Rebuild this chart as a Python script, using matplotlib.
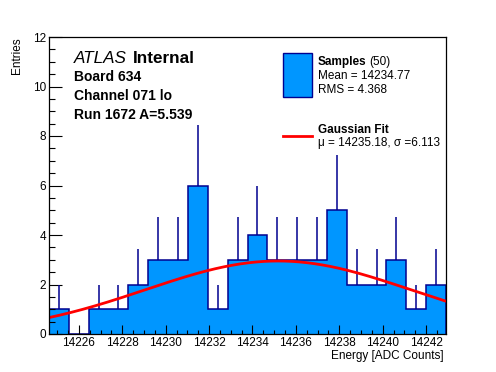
import numpy as np
import matplotlib.pyplot as plt
from matplotlib.ticker import MultipleLocator

plt.rcParams['font.family'] = ['Liberation Sans', 'DejaVu Sans']

# histogram data
x_lo, x_hi = 14224.62, 14242.92
counts = [1, 0, 1, 1, 2, 3, 3, 6, 1, 3, 4, 3, 3, 3, 5, 2, 2, 3, 1, 2]
n_samples = 50
mean, rms = 14234.77, 4.368

# gaussian fit parameters
fit_mu, fit_sigma, fit_amp = 14235.18, 6.113, 2.95

fill_col = '#0096ff'
line_col = '#000090'

fig = plt.figure(figsize=(4.96, 3.72), dpi=100)
W, H = 496, 372
ax = fig.add_axes([49 / W, 1 - 334 / H, (446 - 49) / W, (334 - 37) / H])

counts = np.array(counts, dtype=float)
edges = np.linspace(x_lo, x_hi, len(counts) + 1)
centers = 0.5 * (edges[:-1] + edges[1:])

ax.stairs(counts, edges, fill=True, color=fill_col, lw=0)
ax.stairs(counts, edges, color=line_col, lw=1.1)
nz = counts > 0
ax.vlines(centers[nz], counts[nz], counts[nz] + np.sqrt(counts[nz]), color=line_col, lw=1.1)

# fit curve
xf = np.linspace(x_lo, x_hi, 400)
yf = fit_amp * np.exp(-0.5 * ((xf - fit_mu) / fit_sigma) ** 2)
ax.plot(xf, yf, color='red', lw=2)

ax.set_xlim(x_lo, x_hi)
ax.set_ylim(0, 12)
ax.xaxis.set_major_locator(MultipleLocator(2))
ax.xaxis.set_minor_locator(MultipleLocator(0.5))
ax.yaxis.set_major_locator(MultipleLocator(2))
ax.yaxis.set_minor_locator(MultipleLocator(0.5))
ax.ticklabel_format(useOffset=False, style='plain')
ax.tick_params(which='both', direction='in', top=False, right=False, width=0.8, labelsize=8.5)
ax.tick_params(axis='x', which='major', length=6.5, pad=2)
ax.tick_params(axis='x', which='minor', length=3.2)
ax.tick_params(axis='y', which='major', length=9.4, pad=2)
ax.tick_params(axis='y', which='minor', length=4.5)
for s in ax.spines.values():
    s.set_linewidth(0.9)

fig.text(17 / W, 1 - 37 / H, 'Entries', rotation=90, ha='center', va='top', fontsize=8.5)
fig.text(444 / W, 1 - 356 / H, 'Energy [ADC Counts]', ha='right', va='center', fontsize=8.5)

# ATLAS label block
fig.text(74 / W, 1 - 63 / H, 'ATLAS', style='italic', fontsize=12.3, va='baseline')
fig.text(133 / W, 1 - 63 / H, 'Internal', weight='bold', fontsize=12.3, va='baseline')
info = ['Board 634', 'Channel 071 lo', 'Run 1672 A=5.539']
for i, t in enumerate(info):
    fig.text(74 / W, 1 - (81 + 19 * i) / H, t, weight='bold', fontsize=10, va='baseline')

# legend
box = plt.Rectangle((283 / W, 1 - 97 / H), 29 / W, 44 / H, transform=fig.transFigure,
                    facecolor=fill_col, edgecolor=line_col, lw=1)
fig.add_artist(box)
t = fig.text(318 / W, 1 - 65 / H, 'Samples', weight='bold', fontsize=8.5, va='baseline')
fig.canvas.draw()
bb = t.get_window_extent()
fig.text(bb.x1 / W + 3 / W, 1 - 65 / H, '(%d)' % n_samples, fontsize=8.5, va='baseline')
fig.text(318 / W, 1 - 79 / H, 'Mean = %.2f' % mean, fontsize=8.5, va='baseline')
fig.text(318 / W, 1 - 93 / H, 'RMS = %.3f' % rms, fontsize=8.5, va='baseline')

fig.add_artist(plt.Line2D([283 / W, 312 / W], [1 - 136 / H, 1 - 136 / H], color='red', lw=2,
                          transform=fig.transFigure))
fig.text(318 / W, 1 - 133 / H, 'Gaussian Fit', weight='bold', fontsize=8.5, va='baseline')
fig.text(318 / W, 1 - 146 / H, 'μ = %.2f, σ =%.3f' % (fit_mu, fit_sigma), fontsize=8.5, va='baseline')

fig.savefig('out.png', dpi=100)
